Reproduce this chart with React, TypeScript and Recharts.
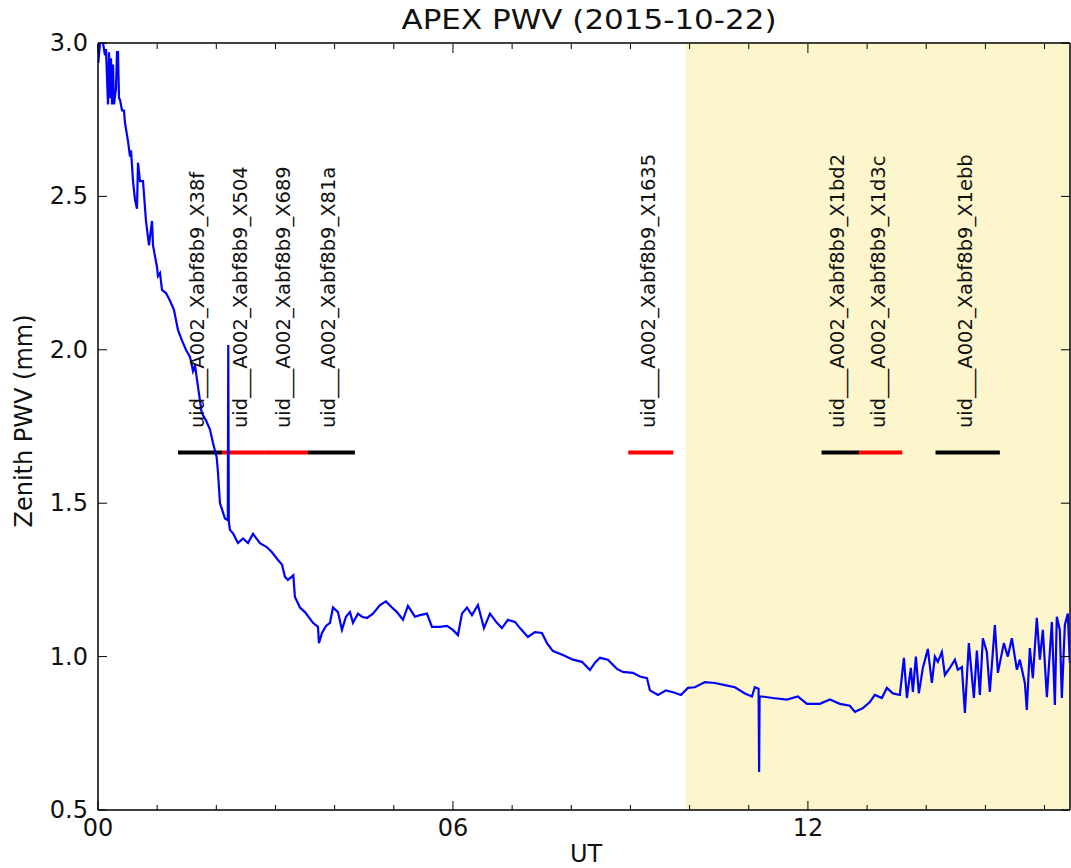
import React from 'react';
import {
  ComposedChart,
  Line,
  XAxis,
  YAxis,
  ReferenceArea,
  ReferenceLine,
  ReferenceDot,
} from 'recharts';

// UT hours and zenith PWV (mm)
const hours = [
  0.005, 0.034, 0.085, 0.118, 0.135, 0.169, 0.186, 0.203, 0.22, 0.237, 0.254, 0.27, 0.304, 0.321, 0.338,
  0.355, 0.372, 0.406, 0.439, 0.456, 0.507, 0.541, 0.558, 0.592, 0.625, 0.659, 0.676, 0.71, 0.761, 0.811,
  0.862, 0.913, 0.93, 0.997, 1.014, 1.048, 1.082, 1.149, 1.217, 1.284, 1.352, 1.42, 1.487, 1.555, 1.606,
  1.639, 1.69, 1.753, 1.825, 1.893, 1.944, 2.006, 2.028, 2.062, 2.096, 2.146, 2.194, 2.202, 2.211, 2.231,
  2.287, 2.366, 2.451, 2.535, 2.62, 2.738, 2.851, 2.941, 3.042, 3.11, 3.16, 3.211, 3.301, 3.329, 3.414,
  3.498, 3.634, 3.718, 3.735, 3.786, 3.853, 3.921, 3.972, 4.056, 4.124, 4.191, 4.259, 4.31, 4.394, 4.462,
  4.546, 4.648, 4.766, 4.867, 4.969, 5.053, 5.155, 5.239, 5.357, 5.442, 5.56, 5.645, 5.78, 5.898, 5.999,
  6.084, 6.152, 6.236, 6.321, 6.422, 6.524, 6.625, 6.743, 6.828, 6.929, 7.048, 7.132, 7.267, 7.385, 7.504,
  7.588, 7.69, 7.859, 8.028, 8.18, 8.315, 8.4, 8.484, 8.619, 8.771, 8.873, 9.042, 9.16, 9.279, 9.329,
  9.465, 9.6, 9.735, 9.853, 9.972, 10.09, 10.259, 10.428, 10.597, 10.766, 10.935, 11.053, 11.103, 11.166, 11.175,
  11.183, 11.222, 11.408, 11.645, 11.83, 11.983, 12.202, 12.371, 12.54, 12.709, 12.794, 12.929, 13.047, 13.132, 13.25,
  13.334, 13.436, 13.554, 13.622, 13.673, 13.74, 13.774, 13.825, 13.875, 13.943, 14.027, 14.095, 14.146, 14.196, 14.264,
  14.315, 14.399, 14.484, 14.534, 14.602, 14.653, 14.72, 14.805, 14.856, 14.906, 14.957, 15.024, 15.075, 15.16, 15.211,
  15.312, 15.379, 15.447, 15.532, 15.582, 15.667, 15.7, 15.751, 15.802, 15.869, 15.92, 15.971, 16.039, 16.123, 16.174,
  16.207, 16.258, 16.292, 16.343, 16.393, 16.427,
];

const pwv = [
  2.935, 3.0, 3.0, 2.96, 2.98, 2.8, 2.97, 2.82, 2.95, 2.8, 2.93, 2.8, 2.85, 2.97, 2.97,
  2.82, 2.815, 2.78, 2.78, 2.74, 2.68, 2.63, 2.65, 2.55, 2.49, 2.46, 2.61, 2.55, 2.55, 2.42,
  2.34, 2.42, 2.34, 2.27, 2.24, 2.25, 2.195, 2.185, 2.16, 2.13, 2.065, 2.03, 2.0, 1.977, 1.93,
  1.95, 1.88, 1.794, 1.77, 1.74, 1.696, 1.65, 1.6, 1.5, 1.48, 1.45, 1.445, 2.016, 1.44, 1.413,
  1.4, 1.37, 1.385, 1.37, 1.4, 1.37, 1.357, 1.34, 1.315, 1.3, 1.26, 1.25, 1.265, 1.194, 1.16,
  1.145, 1.11, 1.097, 1.044, 1.077, 1.1, 1.11, 1.16, 1.145, 1.087, 1.13, 1.145, 1.11, 1.14, 1.13,
  1.126, 1.14, 1.168, 1.18, 1.16, 1.145, 1.12, 1.165, 1.13, 1.135, 1.14, 1.097, 1.097, 1.1, 1.087,
  1.07, 1.14, 1.16, 1.135, 1.168, 1.093, 1.14, 1.11, 1.093, 1.12, 1.113, 1.093, 1.064, 1.08, 1.077,
  1.044, 1.018, 1.005, 0.99, 0.983, 0.956, 0.98, 0.996, 0.99, 0.96, 0.95, 0.947, 0.935, 0.93, 0.89,
  0.875, 0.89, 0.883, 0.875, 0.898, 0.9, 0.917, 0.914, 0.907, 0.9, 0.88, 0.87, 0.9, 0.895, 0.624,
  0.87, 0.87, 0.865, 0.86, 0.87, 0.846, 0.846, 0.86, 0.846, 0.84, 0.82, 0.832, 0.852, 0.875, 0.865,
  0.898, 0.88, 0.875, 0.996, 0.865, 0.963, 0.885, 1.0, 0.88, 0.963, 1.025, 0.914, 1.0, 0.983, 1.015,
  0.94, 0.963, 0.99, 0.957, 0.966, 0.816, 1.044, 0.865, 1.02, 0.875, 1.06, 1.015, 0.885, 1.103, 0.947,
  1.044, 1.0, 1.06, 0.957, 0.99, 0.914, 0.826, 1.028, 0.93, 1.126, 0.99, 1.087, 0.868, 1.113, 0.842,
  1.13, 1.087, 0.865, 1.103, 1.14, 0.98,
];

// executed scheduling blocks (start/end in UT hours)
const obsIds = [
  'uid___A002_Xabf8b9_X38f',
  'uid___A002_Xabf8b9_X504',
  'uid___A002_Xabf8b9_X689',
  'uid___A002_Xabf8b9_X81a',
  'uid___A002_Xabf8b9_X1635',
  'uid___A002_Xabf8b9_X1bd2',
  'uid___A002_Xabf8b9_X1d3c',
  'uid___A002_Xabf8b9_X1ebb',
];
const obsStart = [1.352, 2.096, 2.822, 3.549, 8.963, 12.23, 12.865, 14.157];
const obsEnd = [2.096, 2.822, 3.549, 4.343, 9.724, 12.865, 13.594, 15.244];
const obsFlagged = [false, true, true, false, true, false, true, false];

const OBS_LEVEL = 1.665;
const LABEL_LEVEL = 1.745;
const DAY_START = 9.93;
const X_MAX = 16.43;

const hourTicks = Array.from({ length: 17 }, (_, i) => i);
const pwvTicks = [0.5, 1.0, 1.5, 2.0, 2.5, 3.0];

const data = hours.map((h, i) => ({ t: h, pwv: pwv[i] }));

const FONT = '"DejaVu Sans", Verdana, sans-serif';

const BottomTick = ({ x, y, payload }: any) => {
  const major = payload.value % 6 === 0;
  return (
    <g>
      <line x1={x} x2={x} y1={y} y2={y - (major ? 9 : 5)} stroke="#000" strokeWidth={1} />
      {major && (
        <text x={x} y={y + 26} textAnchor="middle" fontSize={24} fontFamily={FONT} fill="#111">
          {String(payload.value).padStart(2, '0')}
        </text>
      )}
    </g>
  );
};

// top axis is 1px tall, so its tick y sits one pixel above the frame
const TopTick = ({ x, y, payload }: any) => {
  const major = payload.value % 6 === 0;
  return <line x1={x} x2={x} y1={y + 1} y2={y + 1 + (major ? 9 : 5)} stroke="#000" strokeWidth={1} />;
};

const LeftTick = ({ x, y, payload }: any) => (
  <g>
    <line x1={x} x2={x + 9} y1={y} y2={y} stroke="#000" strokeWidth={1} />
    <text x={x - 10} y={y + 8} textAnchor="end" fontSize={24} fontFamily={FONT} fill="#111">
      {payload.value.toFixed(1)}
    </text>
  </g>
);

const RightTick = ({ x, y }: any) => (
  <line x1={x} x2={x - 9} y1={y} y2={y} stroke="#000" strokeWidth={1} />
);

const ObsLabel = (name: string) => (props: any) => {
  const { cx, cy } = props;
  const x = cx + 4;
  return (
    <text
      x={x}
      y={cy}
      transform={`rotate(-90 ${x} ${cy})`}
      textAnchor="start"
      fontSize={19.5}
      fontFamily={FONT}
      fill="#111"
    >
      {name}
    </text>
  );
};

export default function App() {
  return (
    <div style={{ width: 1071, height: 868, background: '#fff' }}>
      <style>{'body{margin:0}'}</style>
      <ComposedChart
        width={1071}
        height={868}
        data={data}
        margin={{ top: 42, right: 0, bottom: 0, left: 0 }}
      >
        <XAxis
          dataKey="t"
          type="number"
          domain={[0, X_MAX]}
          ticks={hourTicks}
          allowDataOverflow
          height={58}
          tickSize={0}
          tickMargin={0}
          tickLine={false}
          interval={0}
          axisLine={{ stroke: '#000', strokeWidth: 1.5 }}
          tick={BottomTick}
          label={() => (
            <text x={586} y={862} textAnchor="middle" fontSize={24} fontFamily={FONT} fill="#111">
              UT
            </text>
          )}
        />
        <XAxis
          xAxisId="top"
          orientation="top"
          dataKey="t"
          type="number"
          domain={[0, X_MAX]}
          ticks={hourTicks}
          allowDataOverflow
          height={1}
          tickSize={0}
          tickMargin={0}
          tickLine={false}
          interval={0}
          axisLine={false}
          tick={TopTick}
        />
        <YAxis
          type="number"
          domain={[0.5, 3]}
          ticks={pwvTicks}
          allowDataOverflow
          width={98}
          tickSize={0}
          tickMargin={0}
          tickLine={false}
          interval={0}
          axisLine={{ stroke: '#000', strokeWidth: 1.5 }}
          tick={LeftTick}
          label={() => (
            <g>
              <text
                x={32}
                y={421}
                transform="rotate(-90 32 421)"
                textAnchor="middle"
                fontSize={24}
                fontFamily={FONT}
                fill="#111"
              >
                Zenith PWV (mm)
              </text>
              <text
                x={589}
                y={29}
                textAnchor="middle"
                fontSize={26}
                fontFamily={FONT}
                fill="#111"
                textLength={375}
                lengthAdjust="spacingAndGlyphs"
              >
                APEX PWV (2015-10-22)
              </text>
            </g>
          )}
        />
        <YAxis
          yAxisId="right"
          orientation="right"
          type="number"
          domain={[0.5, 3]}
          ticks={pwvTicks}
          allowDataOverflow
          width={1}
          tickSize={0}
          tickMargin={0}
          tickLine={false}
          interval={0}
          axisLine={false}
          tick={RightTick}
        />
        <ReferenceArea
          x1={DAY_START}
          x2={X_MAX}
          y1={0.5}
          y2={3}
          fill="#fdf6cd"
          fillOpacity={1}
          stroke="none"
          ifOverflow="hidden"
        />
        {/* frame: top and right spines */}
        <ReferenceLine y={3} stroke="#000" strokeWidth={1.5} />
        <ReferenceLine x={X_MAX} stroke="#000" strokeWidth={1.5} />
        {obsIds.map((id, i) => (
          <ReferenceLine
            key={`seg-${id}`}
            segment={[
              { x: obsStart[i], y: OBS_LEVEL },
              { x: obsEnd[i], y: OBS_LEVEL },
            ]}
            stroke={obsFlagged[i] ? '#ff0000' : '#000000'}
            strokeWidth={4}
          />
        ))}
        {obsIds.map((id, i) => (
          <ReferenceDot
            key={`lab-${id}`}
            x={(obsStart[i] + obsEnd[i]) / 2}
            y={LABEL_LEVEL}
            r={0}
            shape={ObsLabel(id)}
          />
        ))}
        <Line
          type="linear"
          dataKey="pwv"
          stroke="#0000ff"
          strokeWidth={2.2}
          dot={false}
          isAnimationActive={false}
        />
      </ComposedChart>
    </div>
  );
}
